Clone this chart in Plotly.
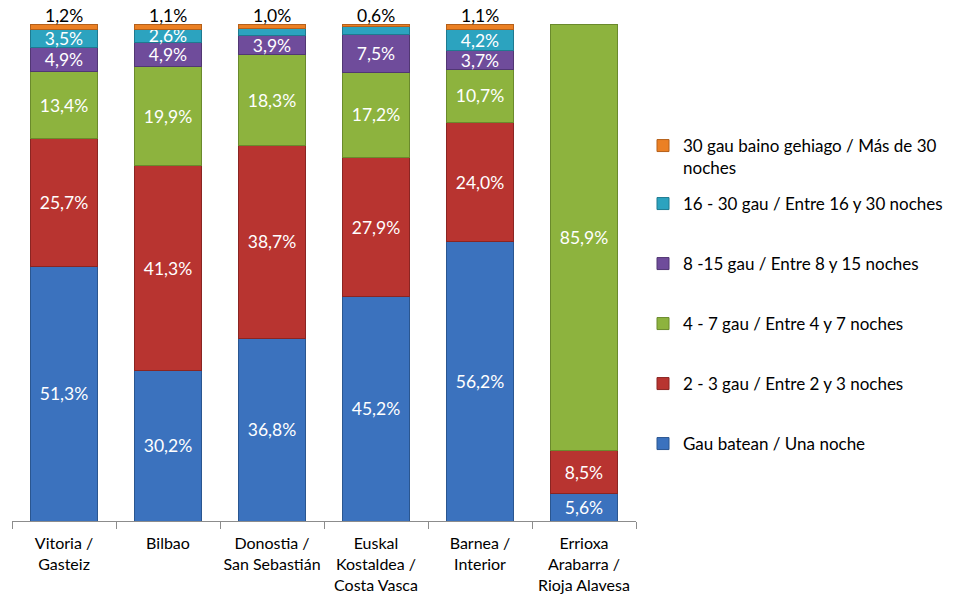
import plotly.graph_objects as go

# Categories (x axis)
categories = [
    "Vitoria /<br>Gasteiz",
    "Bilbao",
    "Donostia /<br>San Sebastián",
    "Euskal<br>Kostaldea /<br>Costa Vasca",
    "Barnea /<br>Interior",
    "Errioxa<br>Arabarra /<br>Rioja Alavesa",
]

# Series values (%)
una_noche = [51.3, 30.2, 36.8, 45.2, 56.2, 5.6]
dos_tres = [25.7, 41.3, 38.7, 27.9, 24.0, 8.5]
cuatro_siete = [13.4, 19.9, 18.3, 17.2, 10.7, 85.9]
ocho_quince = [4.9, 4.9, 3.9, 7.5, 3.7, 0.0]
dieciseis_treinta = [3.5, 2.6, 1.3, 1.6, 4.2, 0.0]
mas_treinta = [1.2, 1.1, 1.0, 0.6, 1.1, 0.0]

series = [
    ("Gau batean / Una noche", una_noche, "#3B72BE", "#2A5690"),
    ("2 - 3 gau / Entre 2 y 3 noches", dos_tres, "#B83430", "#8A2522"),
    ("4 - 7 gau / Entre 4 y 7 noches", cuatro_siete, "#8DB33E", "#6A8A2C"),
    ("8 -15 gau / Entre 8 y 15 noches", ocho_quince, "#6F4C9B", "#513773"),
    ("16 - 30 gau / Entre 16 y 30 noches", dieciseis_treinta, "#2CA3BF", "#1E7A90"),
    ("30 gau baino gehiago / Más de 30<br>noches", mas_treinta, "#EB8024", "#B5601A"),
]

# legend row centres (figure px from top), one legend per series
legend_rows = [436, 376, 316, 256, 196, 138]

FONT = "Lato"
W, H = 965, 594
# page body adds an 8px offset, margins compensate for it
ML, MR, MT, MB = 4, 337, 16, 81
plot_h = H - MT - MB
plot_w = W - ML - MR


def fmt(v):
    return f"{v:.1f}".replace(".", ",") + "%"


fig = go.Figure()
for i, (name, vals, color, edge) in enumerate(series):
    top = i == len(series) - 1
    text = [] if top else [fmt(v) if v >= 2 else "" for v in vals]
    leg = "legend" if i == 0 else f"legend{i + 1}"
    fig.add_trace(go.Bar(
        x=categories,
        y=vals,
        name=name,
        marker=dict(color=color,
                    line=dict(color=edge, width=[1 if v > 0 else 0 for v in vals])),
        text=text,
        textposition="inside",
        insidetextanchor="middle",
        constraintext="none",
        textfont=dict(family=FONT, size=17.5, color="white"),
        legend=leg,
        hoverinfo="x+y+name",
    ))

# labels of the top (30+) segment sit just above each stack
totals = [sum(v) for v in zip(*[s[1] for s in series])]
for cat, tot, v in zip(categories, totals, mas_treinta):
    if v > 0:
        fig.add_annotation(
            x=cat, y=tot, text=fmt(v), showarrow=False,
            yanchor="middle", yshift=9,
            font=dict(family=FONT, size=17.5, color="black"),
        )

layout_legends = {}
for i, row in enumerate(legend_rows):
    key = "legend" if i == 0 else f"legend{i + 1}"
    multiline = i == len(legend_rows) - 1
    layout_legends[key] = dict(
        x=(635 - ML) / plot_w,
        xanchor="left",
        y=(H - MB - (row - 18 if multiline else row)) / plot_h,
        yanchor="top" if multiline else "middle",
        valign="top",
        font=dict(family=FONT, size=17, color="black"),
        bgcolor="rgba(0,0,0,0)",
        itemwidth=30,
    )

fig.update_layout(
    width=W,
    height=H,
    barmode="stack",
    bargap=0.365,
    margin=dict(l=ML, r=MR, t=MT, b=MB),
    plot_bgcolor="white",
    paper_bgcolor="white",
    font=dict(family=FONT, size=17, color="black"),
    showlegend=True,
    **layout_legends,
)
fig.update_xaxes(
    showline=True,
    linecolor="#8c8c8c",
    linewidth=1,
    ticks="outside",
    tickson="boundaries",
    ticklen=7,
    tickcolor="#8c8c8c",
    tickangle=0,
    ticklabelstandoff=8,
    tickfont=dict(family=FONT, size=16, color="black"),
    showgrid=False,
    automargin=False,
)
fig.update_yaxes(range=[0, 100], visible=False, showgrid=False)

fig.write_html("out.html")
